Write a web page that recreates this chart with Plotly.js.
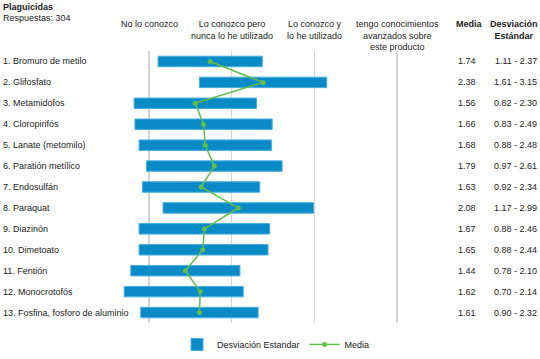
<!DOCTYPE html>
<html>
<head>
<meta charset="utf-8">
<script src="https://cdn.plot.ly/plotly-3.0.1.min.js"></script>
<style>html,body{margin:0;padding:0;background:#fff}#chart{width:540px;height:359px}</style>
</head>
<body>
<div id="chart"></div>
<script>
var categories = ["1. Bromuro de metilo","2. Glifosfato","3. Metamidofos","4. Cloropirifós","5. Lanate (metomilo)","6. Paratión metílico","7. Endosulfán","8. Paraquat","9. Diazinón","10. Dimetoato","11. Fentión","12. Monocrotofós","13. Fosfina, fosforo de aluminio"];
var media = [1.74,2.38,1.56,1.66,1.68,1.79,1.63,2.08,1.67,1.65,1.44,1.62,1.61];
var sdLow = [1.11,1.61,0.82,0.83,0.88,0.97,0.92,1.17,0.88,0.88,0.78,0.70,0.90];
var sdHigh = [2.37,3.15,2.30,2.49,2.48,2.61,2.34,2.99,2.46,2.44,2.10,2.14,2.32];
var scaleVals = [1,2,3,4];
var scaleLabels = ["No lo conozco","Lo conozco pero<br>nunca lo he utilizado","Lo conozco y<br>lo he utilizado","tengo conocimientos<br>avanzados sobre<br>este producto"];

var idx = categories.map(function(_, i){ return i; });
var font = "Liberation Sans, Arial, sans-serif";
var txt = "#222";
var fs = 9;

var traces = [
  {
    type: "bar", orientation: "h", name: "Desviación Estandar",
    y: idx, base: sdLow, x: sdHigh.map(function(h, i){ return h - sdLow[i]; }),
    width: 0.5,
    marker: {color: "#0a8bc8", line: {color: "#45aee0", width: 1}},
    hoverinfo: "skip"
  },
  {
    type: "scatter", mode: "lines+markers", name: "Media",
    y: idx, x: media,
    line: {color: "#62be48", width: 1.5},
    marker: {color: "#62be48", size: 5}
  }
];

var ann = [];
function A(o){ o.showarrow = false; o.font = Object.assign({family: font, size: fs, color: txt}, o.font || {}); ann.push(o); }
var top0 = 51, plotH = 279;
function py(px){ return 1 + (top0 - px)/plotH; }

categories.forEach(function(c, i){
  A({text: c, xref: "paper", x: 0.002, xanchor: "left", yref: "y", y: i, yanchor: "middle"});
  A({text: media[i].toFixed(2), xref: "paper", x: 467/540, xanchor: "center", yref: "y", y: i});
  A({text: sdLow[i].toFixed(2) + " - " + sdHigh[i].toFixed(2), xref: "paper", x: 539/540, xanchor: "right", yref: "y", y: i});
});
scaleVals.forEach(function(v, i){
  A({text: scaleLabels[i], xref: "x", x: v, xanchor: "center", yref: "paper", y: py(16), yanchor: "top", align: "center"});
});
A({text: "<b>Plaguicidas</b>", xref: "paper", x: 0.002, xanchor: "left", yref: "paper", y: py(-1), yanchor: "top"});
A({text: "Respuestas: 304", xref: "paper", x: 0.002, xanchor: "left", yref: "paper", y: py(10), yanchor: "top"});
A({text: "<b>Media</b>", xref: "paper", x: 469/540, xanchor: "center", yref: "paper", y: py(16), yanchor: "top"});
A({text: "<b>Desviación<br>Estándar</b>", xref: "paper", x: 514/540, xanchor: "center", yref: "paper", y: py(16), yanchor: "top", align: "center"});

var pxPerUnit = (397 - 149) / 3;
var layout = {
  width: 540, height: 359,
  margin: {l: 0, r: 0, t: top0, b: 359 - top0 - plotH},
  paper_bgcolor: "#fff", plot_bgcolor: "#fff",
  showlegend: true,
  legend: {orientation: "h", x: 276/540, xanchor: "center", yref: "paper", y: -22/plotH, yanchor: "middle",
           font: {family: font, size: fs, color: txt}, itemwidth: 30, tracegroupgap: 0},
  xaxis: {range: [1 - 149/pxPerUnit, 1 + (540-149)/pxPerUnit], tickvals: scaleVals, showticklabels: false,
          showgrid: true, gridcolor: "#d4d4d4", gridwidth: 1.5, zeroline: false, showline: false, fixedrange: true},
  yaxis: {range: [12.5, -0.5], showticklabels: false, showgrid: false, zeroline: false, showline: false, fixedrange: true},
  annotations: ann,
  font: {family: font, size: fs, color: txt}
};
Plotly.newPlot("chart", traces, layout, {displayModeBar: false, staticPlot: true});
</script>
</body>
</html>
